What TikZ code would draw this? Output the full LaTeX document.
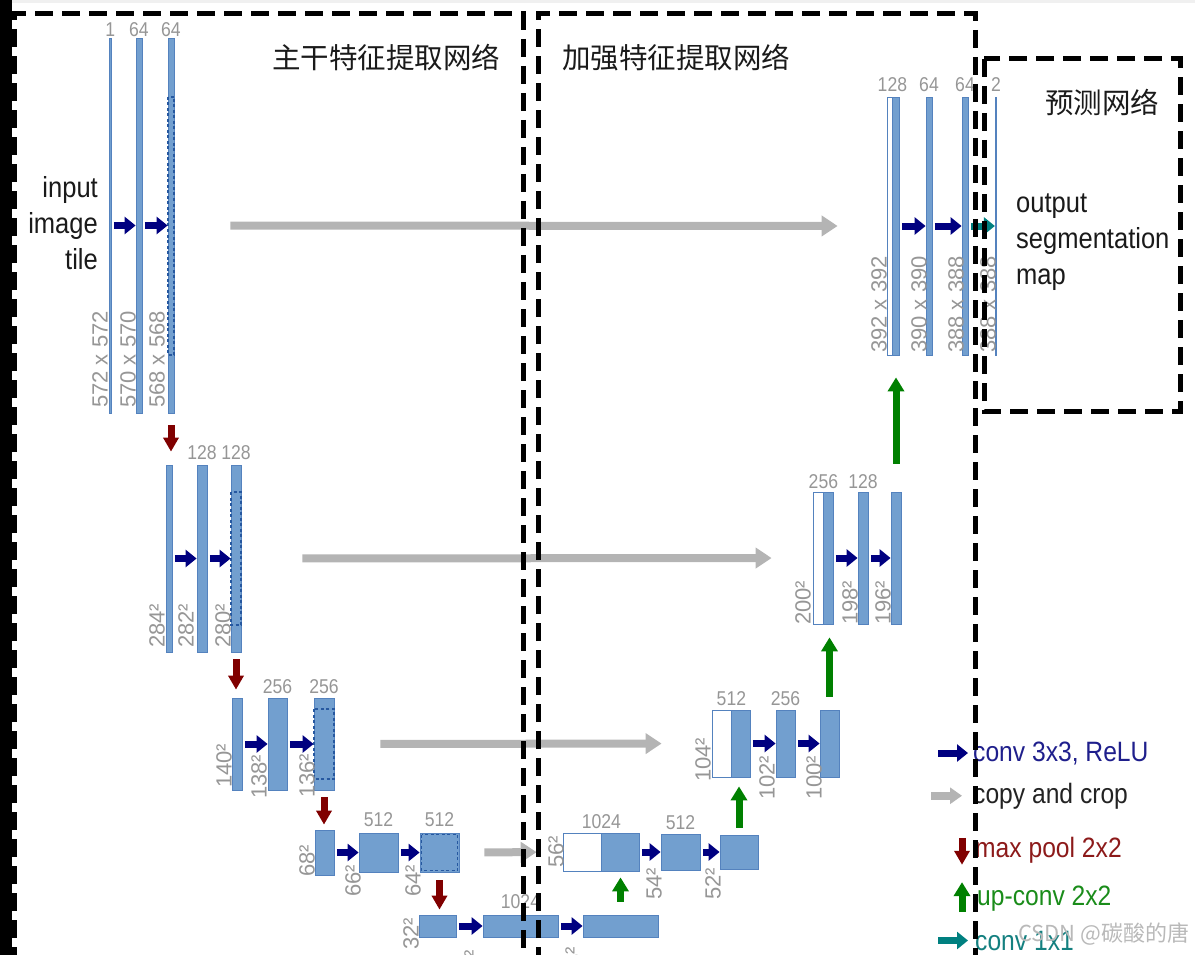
\documentclass[tikz,border=0pt]{standalone}
\usepackage{fontspec}
\setmainfont{Liberation Sans}[FakeStretch=0.88]
\newfontfamily\sizefont{Liberation Sans}
\newfontfamily\cjk{Noto Sans CJK SC}
\usetikzlibrary{arrows.meta,positioning,fit}
\definecolor{fmapblue}{RGB}{114,159,207}
\definecolor{fmapedge}{RGB}{84,130,190}
\definecolor{cropblue}{RGB}{38,88,160}
\definecolor{convnavy}{RGB}{0,0,128}
\definecolor{copygray}{RGB}{180,180,180}
\definecolor{poolred}{RGB}{128,0,0}
\definecolor{upgreen}{RGB}{0,128,0}
\definecolor{outteal}{RGB}{0,128,128}
\definecolor{labgray}{RGB}{150,150,150}
\definecolor{inkblack}{RGB}{26,26,26}
\definecolor{legconv}{RGB}{31,31,140}
\definecolor{legcopy}{RGB}{35,35,35}
\definecolor{legpool}{RGB}{140,26,26}
\definecolor{legup}{RGB}{26,140,26}
\definecolor{legteal}{RGB}{20,128,128}

\tikzset{
  fmap/.style={draw=fmapedge, fill=fmapblue, line width=0.8pt, inner sep=0pt},
  concat/.style={fmap, fill=white},
  crop/.style={draw=cropblue, line width=1.4pt, dash pattern=on 3pt off 2.5pt},
  blockarrow/.style={line width=7pt, -{Triangle[length=11pt,width=17pt]}},
  conv/.style={blockarrow, convnavy, shorten <=2.5pt},
  conv1/.style={blockarrow, outteal, shorten <=2.5pt},
  copycrop/.style={line width=8pt, copygray, -{Triangle[length=16pt,width=20pt]}},
  pool/.style={blockarrow, poolred, -{Triangle[length=14pt,width=15pt]}},
  upconv/.style={blockarrow, upgreen, -{Triangle[length=14pt,width=16pt]}},
  chan/.style={text=labgray, font=\fontsize{20}{22}\selectfont, inner sep=0pt},
  dimlab/.style={text=labgray, font=\sizefont\fontsize{22}{24}\selectfont, rotate=90, anchor=west, inner sep=0pt},
  bigtext/.style={text=inkblack, font=\fontsize{29}{36}\selectfont, inner sep=0pt},
  netbox/.style={line width=5pt, dash pattern=on 18pt off 9pt},
  nettitle/.style={text=inkblack, font=\cjk\fontsize{28.5}{34}\selectfont, anchor=west, inner sep=0pt},
  legtext/.style={font=\fontsize{28}{32}\selectfont, anchor=base west, inner sep=0pt}
}
% feature map: name, corners (x1,y1) (x2,y2)
\newcommand{\fmapnode}[6][fmap]{\node[#1, fit={(#3,#4) (#5,#6)}] (#2) {};}

\begin{document}
\begin{tikzpicture}[x=1pt, y=-1pt]
  \useasboundingbox (0,0) rectangle (1195,955);
  % Page edges
  \fill[gray!12] (0,0) rectangle (1195,3);
  \fill[black] (0,0) rectangle (12,955);

  % Contracting path, level 1
  \fmapnode{l1a}{109.5}{38}{111}{413}
  \fmapnode{l1b}{136}{38}{142}{413}
  \fmapnode{l1c}{168}{38}{174}{413}
  \draw[crop] (168,97) rectangle (174,355);
  \node[chan, above=1pt of l1a] {1};
  \node[chan, above=1pt of l1b] {64};
  \node[chan, above=1pt of l1c] {64};
  \node[dimlab] at (100,408) {572 x 572};
  \node[dimlab] at (128,408) {570 x 570};
  \node[dimlab] at (157,408) {568 x 568};
  \node[bigtext, align=right, anchor=north east] (inputtile) at (98,176) {input\\image\\tile};

  % Level 2
  \fmapnode{l2a}{166}{465}{172}{652}
  \fmapnode{l2b}{197}{465}{207}{652}
  \fmapnode{l2c}{231}{465}{241}{652}
  \draw[crop] (231,492) rectangle (241,625);
  \node[chan, above=5pt of l2b] {128};
  \node[chan, above=5pt of l2c] {128};
  \node[dimlab] at (157,648) {284²};
  \node[dimlab] at (186,648) {282²};
  \node[dimlab] at (223,648) {280²};

  % Level 3
  \fmapnode{l3a}{232}{698}{242}{790}
  \fmapnode{l3b}{268}{698}{287}{790}
  \fmapnode{l3c}{314}{698}{334}{790}
  \draw[crop] (314,709) rectangle (334,779);
  \node[chan, above=4pt of l3b] {256};
  \node[chan, above=4pt of l3c] {256};
  \node[dimlab] at (224,788) {140²};
  \node[dimlab] at (259,799) {138²};
  \node[dimlab] at (307,798) {136²};

  % Level 4
  \fmapnode{l4a}{315}{830}{334}{875}
  \fmapnode{l4b}{359}{833}{398}{872}
  \fmapnode{l4c}{420}{833}{459}{872}
  \draw[crop] (421.5,834.5) rectangle (457.5,870.5);
  \node[chan, above=6pt of l4b] {512};
  \node[chan, above=6pt of l4c] {512};
  \node[dimlab] at (307,877) {68²};
  \node[dimlab] at (353,897) {66²};
  \node[dimlab] at (413,897) {64²};

  % Bottom level
  \fmapnode{b5a}{419}{915}{456}{937}
  \fmapnode{b5b}{483}{915}{558}{937}
  \fmapnode{b5c}{583}{915}{658}{937}
  \node[chan, above=6pt of b5b] {1024};
  \node[dimlab] at (411,950) {32²};
  \node[dimlab] at (472,982) {30²};
  \node[dimlab] at (573,979) {28²};

  % Expanding path, level 4
  \fmapnode[concat]{u4w}{563}{833}{601}{871}
  \fmapnode{u4b}{601}{833}{639}{871}
  \fmapnode{u4c}{661}{834}{700}{870}
  \fmapnode{u4d}{720}{835}{758}{869}
  \node[chan, above=4pt of u4w.north east] {1024};
  \node[chan, above=4pt of u4c] {512};
  \node[dimlab] at (556,868) {56²};
  \node[dimlab] at (654,900) {54²};
  \node[dimlab] at (713,900) {52²};

  % Level 3
  \fmapnode[concat]{u3w}{712}{710}{731}{777}
  \fmapnode{u3b}{731}{710}{750}{777}
  \fmapnode{u3c}{776}{710}{795}{777}
  \fmapnode{u3d}{820}{710}{839}{777}
  \node[chan, above=4pt of u3w.north east] {512};
  \node[chan, above=4pt of u3c] {256};
  \node[dimlab] at (703,782) {104²};
  \node[dimlab] at (767,800) {102²};
  \node[dimlab] at (814,800) {100²};

  % Level 2
  \fmapnode[concat]{u2w}{813}{492}{823}{624}
  \fmapnode{u2b}{823}{492}{833}{624}
  \fmapnode{u2c}{858}{492}{868}{624}
  \fmapnode{u2d}{891}{492}{901}{624}
  \node[chan, above=3pt of u2w.north east] {256};
  \node[chan, above=3pt of u2c] {128};
  \node[dimlab] at (803,625) {200²};
  \node[dimlab] at (850,625) {198²};
  \node[dimlab] at (883,625) {196²};

  % Level 1
  \fmapnode[concat]{u1w}{887}{97}{892}{355}
  \fmapnode{u1b}{892}{97}{899}{355}
  \fmapnode{u1c}{926}{97}{932}{355}
  \fmapnode{u1d}{962}{97}{968}{355}
  \fmapnode{u1e}{995.3}{97}{996.7}{355}
  \node[chan, above=5pt of u1w.north east] {128};
  \node[chan, above=5pt of u1c] {64};
  \node[chan, above=5pt of u1d] {64};
  \node[chan, above=5pt of u1e] {2};
  \node[dimlab] at (879,353) {392 x 392};
  \node[dimlab] at (919,353) {390 x 390};
  \node[dimlab] at (956,353) {388 x 388};
  \node[dimlab] at (988,353) {388 x 388};
  \node[bigtext, align=left, anchor=north west] (outputmap) at (1016,194) {output\\segmentation\\map};

  % conv 3x3 arrows
  \foreach \a/\b in {l1a/l1b, l1b/l1c, l2a/l2b, l2b/l2c, l3a/l3b, l3b/l3c,
      l4a/l4b, l4b/l4c, b5a/b5b, b5b/b5c, u4b/u4c, u4c/u4d,
      u3b/u3c, u3c/u3d, u2b/u2c, u2c/u2d, u1b/u1c, u1c/u1d}
    \draw[conv] (\a) -- (\b);
  \draw[conv1] (u1d) -- (u1e);

  % copy and crop
  \draw[copycrop, shorten <=56pt, shorten >=49pt] (l1c) -- (u1w);
  \draw[copycrop, shorten <=61pt, shorten >=41pt] (l2c) -- (u2w);
  \draw[copycrop, shorten <=46pt, shorten >=50pt] (l3c) -- (u3w);
  \draw[copycrop, shorten <=25pt, shorten >=26pt] (l4c) -- (u4w);

  % max pool
  \draw[pool, shorten <=12pt, shorten >=13pt] (l1c.south) -- (l1c.south |- l2c.north);
  \draw[pool, shorten <=7pt, shorten >=8pt] (l2c.south) -- (l2c.south |- l3c.north);
  \draw[pool, shorten <=7pt, shorten >=8pt] (l3c.south) -- (l3c.south |- l4c.north);
  \draw[pool, shorten <=8pt, shorten >=5pt] (l4c.south) -- (l4c.south |- b5b.north);

  % up-conv
  \draw[upconv, shorten <=13pt, shorten >=6pt] (b5c.north) -- (b5c.north |- u4b.south);
  \draw[upconv, shorten <=7pt, shorten >=9pt] (u4d.north) -- (u4d.north |- u3b.south);
  \draw[upconv, shorten <=13pt, shorten >=13pt] (u3d.north) -- (u3d.north |- u2b.south);
  \draw[upconv, shorten <=28pt, shorten >=22pt] (u2d.north) -- (u2d.north |- u1b.south);

  % Legend
  \node[legtext, text=legconv] (lconv) at (973,761) {conv 3x3, ReLU};
  \node[legtext, text=legcopy] (lcopy) at (973,803) {copy and crop};
  \node[legtext, text=legpool] (lpool) at (975,857) {max pool 2x2};
  \node[legtext, text=legup] (lup) at (977,905) {up-conv 2x2};
  \node[legtext, text=legteal] (lconvone) at (975,950) {conv 1x1};
  \draw[conv, shorten <=0pt] ([xshift=-35pt]lconv.west) -- ([xshift=-5pt]lconv.west);
  \draw[copycrop, -{Triangle[length=12pt,width=16pt]}] ([xshift=-42pt]lcopy.west) -- ([xshift=-11pt]lcopy.west);
  \draw[pool] ([xshift=-13pt,yshift=12pt]lpool.west) -- ([xshift=-13pt,yshift=-15pt]lpool.west);
  \draw[upconv] ([xshift=-15pt,yshift=-14pt]lup.west) -- ([xshift=-15pt,yshift=16pt]lup.west);
  \draw[conv1, shorten <=0pt] ([xshift=-37pt]lconvone.west) -- ([xshift=-7pt]lconvone.west);
  \node[text=gray!55, font=\cjk\fontsize{22}{24}\selectfont, anchor=west, inner sep=0pt] (mark) at (1018,934) {CSDN @碳酸的唐};

  % Network parts
  \draw[netbox] (14,965) -- (14,14) -- (523,14) -- (523,965);
  \draw[netbox] (538,965) -- (538,14) -- (975,14) -- (975,965);
  \draw[netbox] (984,59) rectangle (1180,411);
  \node[nettitle] (backbone) at (272,57) {主干特征提取网络};
  \node[nettitle] (neck) at (562,58) {加强特征提取网络};
  \node[nettitle] (head) at (1045,102) {预测网络};
\end{tikzpicture}
\end{document}
